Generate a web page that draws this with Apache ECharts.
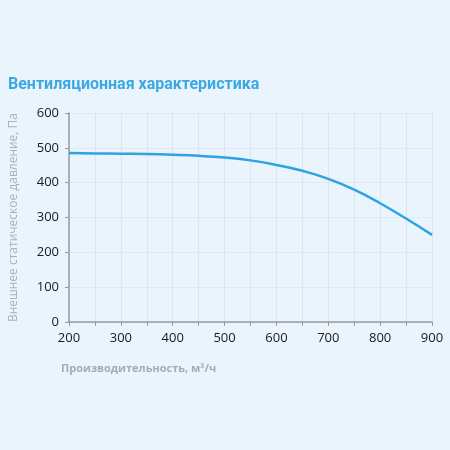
<!DOCTYPE html>
<html>
<head>
<meta charset="utf-8">
<script src="https://cdn.jsdelivr.net/npm/echarts@6/dist/echarts.min.js"></script>
<style>
html,body{margin:0;padding:0;background:#eaf4fc;}
#chart{width:450px;height:450px;}
</style>
</head>
<body>
<div id="chart"></div>
<script>
// расход, м3/ч
var flowArr = [200,250,300,350,400,450,500,550,600,650,700,750,800,850,900];
// давление, Па
var pressArr = [485,484,483,482,480,477,472,464,451,434,411,380,341,297,250];

var titleText = 'Вентиляционная характеристика';
var xName = 'Производительность, м³/ч';
var yName = 'Внешнее статическое давление, Па';

var dom = document.getElementById('chart');
var myChart = echarts.init(dom);
var data = [];
for(var i = 0;i < flowArr.length;i++){
	data.push([flowArr[i], pressArr[i]]);
}

var option = {
	backgroundColor: '#eaf4fc',
	title: [
		{
			text: titleText,
			left: 3, top: 72,
			textStyle: {color: '#3ba8e4', fontSize: 16, fontWeight: 'bold', fontFamily: 'Roboto'}
		},
		{
			text: xName,
			left: 56, top: 358,
			textStyle: {color: '#a4adb6', fontSize: 11, fontWeight: 'bold', fontFamily: 'Open Sans'}
		}
	],
	grid: {left: 67, right: 18, top: 113, bottom: 128},
	xAxis: {
		type: 'value',
		min: 200, max: 900, interval: 50,
		axisLine: {lineStyle: {color: '#9a9a9a', width: 1.5}},
		axisTick: {show: true, length: 4, lineStyle: {color: '#9a9a9a'}},
		axisLabel: {
			color: '#1a1a1a', fontSize: 13, fontFamily: 'Open Sans', margin: 10,
			formatter: function(v){ return v % 100 === 0 ? v : ''; }
		},
		splitLine: {show: true, lineStyle: {color: '#dde6ee', width: 1}}
	},
	yAxis: {
		type: 'value',
		min: 0, max: 600, interval: 100,
		name: yName,
		nameLocation: 'middle',
		nameGap: 49,
		nameTextStyle: {color: '#a9b2bb', fontSize: 12, fontFamily: 'Open Sans'},
		axisLine: {show: true, lineStyle: {color: '#9a9a9a', width: 1.5}},
		axisTick: {show: true, length: 4, lineStyle: {color: '#9a9a9a'}},
		axisLabel: {color: '#1a1a1a', fontSize: 13, fontFamily: 'Open Sans', margin: 10},
		splitLine: {show: true, lineStyle: {color: '#e2eaf1', width: 1}}
	},
	series: [
		{
			type: 'line',
			data: data,
			smooth: true,
			symbol: 'none',
			lineStyle: {color: '#2fa3e2', width: 2.5}
		}
	]
};
myChart.setOption(option);
</script>
</body>
</html>
